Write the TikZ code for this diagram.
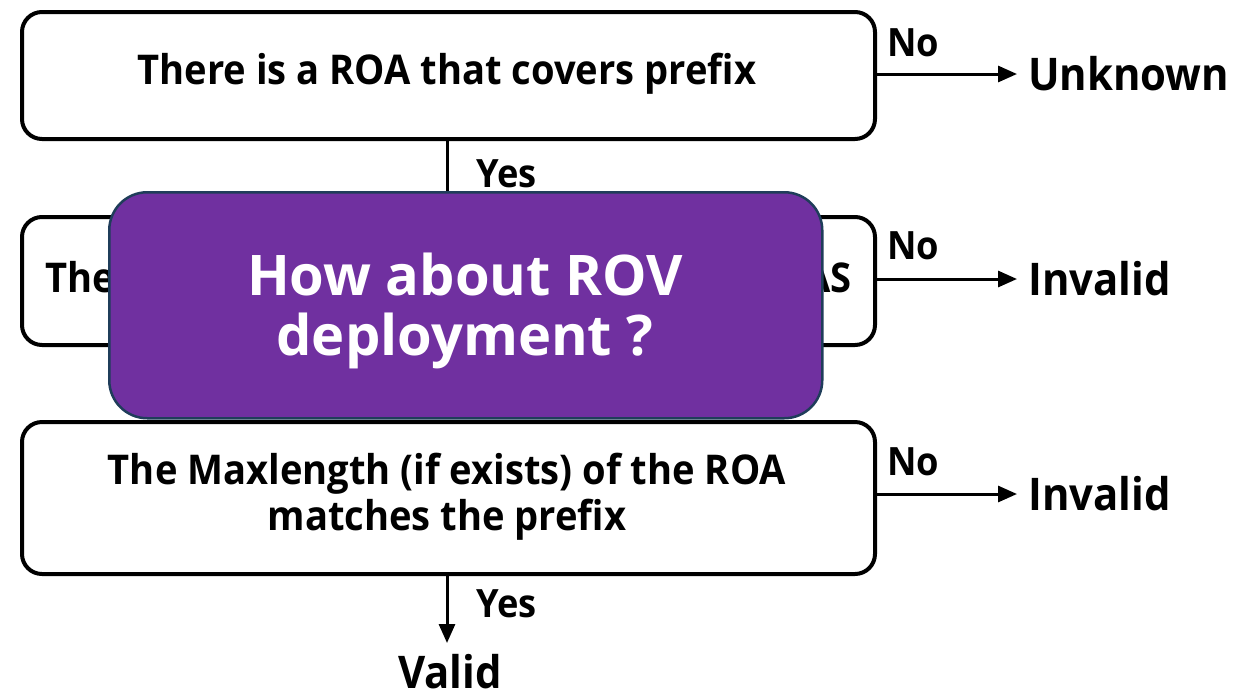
\documentclass[tikz,border=0pt]{standalone}
\usepackage{fontspec}
\setmainfont{Open Sans}[FakeStretch=0.93]
\newfontfamily\ovfont{Open Sans}
\usetikzlibrary{arrows.meta,positioning}
\definecolor{rovpurple}{HTML}{7030A0}
\definecolor{rovedge}{HTML}{1F3D5A}
\tikzset{
  stepbox/.style={draw=black,line width=4pt,rounded corners=20pt,fill=white},
  boxtext/.style={font=\fontsize{41}{44}\selectfont\bfseries,inner sep=0pt,align=center},
  lbl/.style={font=\fontsize{45}{48}\selectfont\bfseries,inner sep=0pt,anchor=base west,text depth=0pt},
  small/.style={font=\fontsize{39}{42}\selectfont\bfseries,inner sep=0pt,anchor=base west},
  conn/.style={line width=3pt,-{Triangle[length=19pt,width=16pt]}},
  plain/.style={line width=3pt},
}
\begin{document}
\begin{tikzpicture}[x=1pt,y=-1pt]
\useasboundingbox (0,0) rectangle (1244,697);
% boxes
\node[stepbox,minimum width=853pt,minimum height=127pt,anchor=north west] (b1) at (20,10) {};
\node[boxtext] (t1) at (447,74) {There is a ROA that covers prefix};
\node[stepbox,minimum width=853pt,minimum height=128pt,anchor=north west] (b2) at (20,215) {};
\node[boxtext,anchor=base west] (t2a) at (45,292) {The};
\node[boxtext,anchor=base east] (t2b) at (852,292) {AS};
\node[stepbox,minimum width=853pt,minimum height=152pt,anchor=north west] (b3) at (20,420) {};
\node[boxtext] (t3) at (447,497) {The Maxlength (if exists) of the ROA\\[2pt]matches the prefix};
% right arrows
\coordinate (e1) at (1017,74);
\coordinate (e2) at (1017,279);
\coordinate (e3) at (1017,494);
\draw[conn] (b1.east|-e1) -- (e1);
\draw[conn] (b2.east|-e2) -- (e2);
\draw[conn] (b3.east|-e3) -- (e3);
\node[small] (n1) at (887,56) {No};
\node[small] (n2) at (887,259) {No};
\node[small] (n3) at (887,475) {No};
\node[lbl] (r1) at (1028,90) {Unknown};
\node[lbl] (r2) at (1028,295) {Invalid};
\node[lbl] (r3) at (1028,510) {Invalid};
% vertical connectors
\coordinate (v1) at (447,215);
\draw[plain] (b1.south-|v1) -- (v1);
\node[small] (y1) at (476,187) {Yes};
\coordinate (v3) at (447,643);
\draw[conn] (b3.south-|v3) -- (v3);
\node[small] (y3) at (476,617) {Yes};
\node[lbl] (val) at (398,688) {Valid};
% overlay
\node[draw=rovedge,line width=2.5pt,fill=rovpurple,rounded corners=38pt,minimum width=713pt,minimum height=226pt,anchor=north west] (ov) at (108,191) {};
\node[font=\ovfont\fontsize{56}{60}\selectfont\bfseries,text=white,align=center,inner sep=0pt] (ovt) at (465,311) {How about ROV\\[0pt]deployment ?};
\end{tikzpicture}
\end{document}
